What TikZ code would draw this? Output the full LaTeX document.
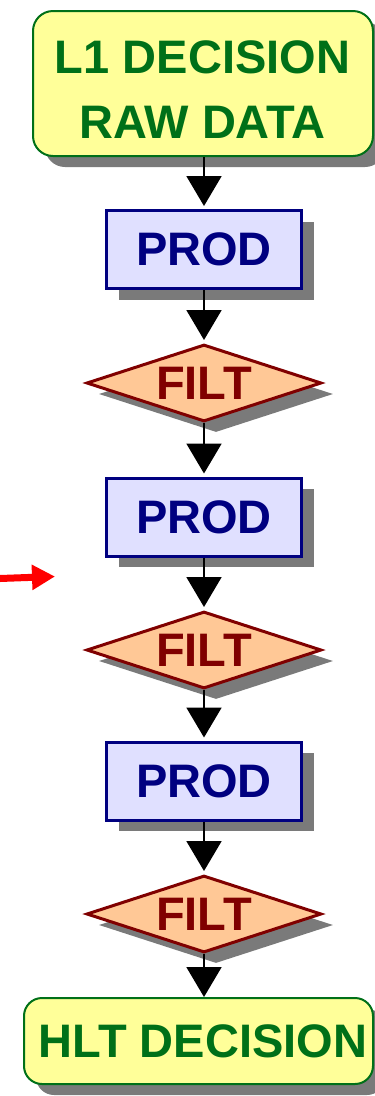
\documentclass[tikz,border=0pt]{standalone}
\usepackage{fontspec}
\setmainfont{Liberation Sans}
\usetikzlibrary{arrows.meta,shapes.geometric,shadows}

\definecolor{decfill}{RGB}{255,255,153}
\definecolor{decline}{RGB}{0,112,24}
\definecolor{prodfill}{RGB}{224,224,255}
\definecolor{prodline}{RGB}{0,0,128}
\definecolor{filtfill}{RGB}{255,200,150}
\definecolor{filtline}{RGB}{128,0,0}
\definecolor{shade}{RGB}{122,122,122}

\tikzset{
  bigtext/.style={font=\bfseries\fontsize{47}{65}\selectfont, inner sep=0pt},
  boxshadow/.style={drop shadow={shadow xshift=12pt, shadow yshift=-11pt, fill=shade, opacity=1}},
  decbox/.style={draw=decline, fill=decfill, line width=2pt, rounded corners=20pt, boxshadow, inner sep=0pt},
  dectext/.style={bigtext, text=decline, align=center},
  prodbox/.style={rectangle, draw=prodline, fill=prodfill, line width=3pt, boxshadow,
    minimum width=195pt, minimum height=78pt, bigtext, text=prodline},
  filtbox/.style={diamond, aspect=2.97, draw=filtline, fill=filtfill, line width=3pt, boxshadow,
    minimum width=235pt, minimum height=77pt, bigtext, text=filtline},
  flow/.style={draw=black, line width=2pt, shorten >=3pt, -{Triangle[width=35pt,length=30pt]}},
  pointer/.style={draw=red, line width=7pt, -{Triangle[width=24pt,length=23pt]}}
}

\begin{document}
\begin{tikzpicture}[x=1pt, y=-1pt]
  \useasboundingbox (0,0) rectangle (375,1096);

  % input and output of the chain
  \node[decbox, minimum width=340pt, minimum height=145pt] (l1) at (203,83.5) {};
  \node[dectext] (l1text) at (202.5,90) {L1 DECISION\\RAW DATA};
  \node[decbox, rounded corners=18pt, minimum width=349pt, minimum height=86pt] (hlt) at (198.5,1041) {};
  \node[dectext] (hlttext) at (203,1041) {HLT DECISION};

  % producer / filter stages
  \node[prodbox] (prod1) at (204,249.5) {PROD};
  \node[filtbox] (filt1) at (204,383) {FILT};
  \node[prodbox] (prod2) at (204,517) {PROD};
  \node[filtbox] (filt2) at (204,650) {FILT};
  \node[prodbox] (prod3) at (204,781) {PROD};
  \node[filtbox] (filt3) at (204,914) {FILT};

  % data flow
  \draw[flow] (l1.south -| prod1.north) -- (prod1.north);
  \draw[flow] (prod1.south) -- (filt1.north);
  \draw[flow] (filt1.south) -- (prod2.north);
  \draw[flow] (prod2.south) -- (filt2.north);
  \draw[flow] (filt2.south) -- (prod3.north);
  \draw[flow] (prod3.south) -- (filt3.north);
  \draw[flow, shorten >=0pt] (filt3.south) -- (hlt.north -| filt3.south);

  % red marker arrow
  \coordinate (ptail) at (0,578.5);
  \coordinate (phead) at (55,576.5);
  \draw[pointer] (ptail) -- (phead);
\end{tikzpicture}
\end{document}
